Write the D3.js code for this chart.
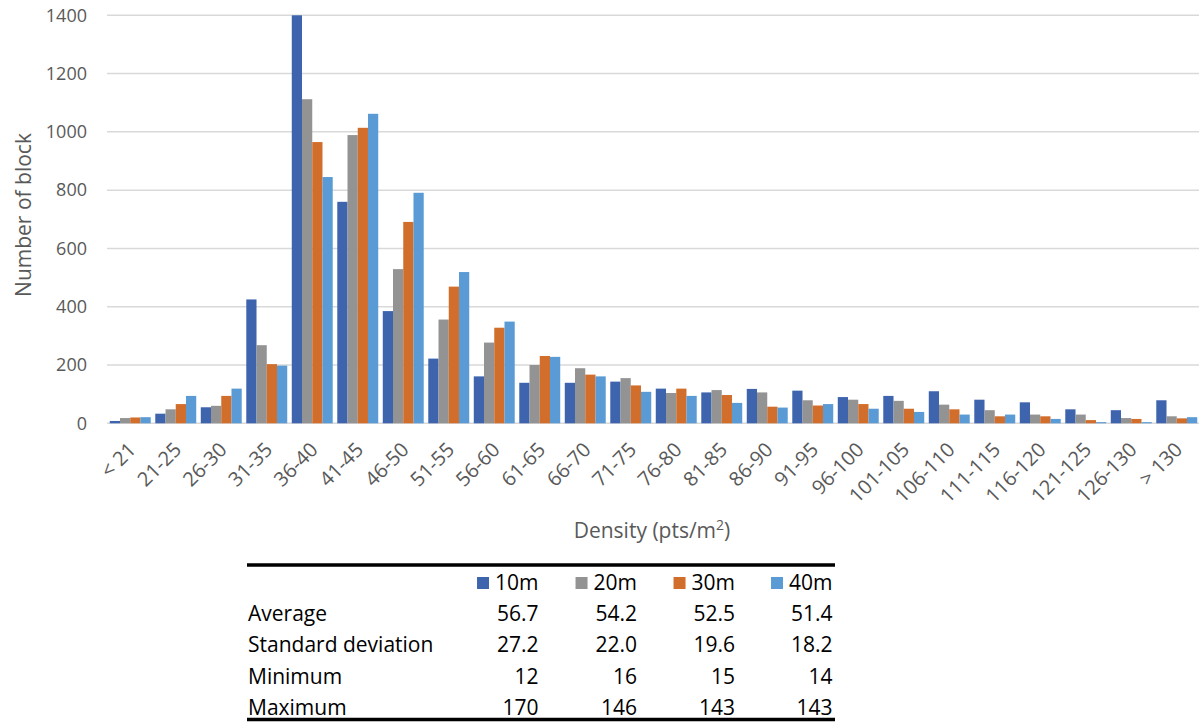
<!DOCTYPE html>
<html>
<head>
<meta charset="utf-8">
<script src="https://cdn.jsdelivr.net/npm/d3@7"></script>
<style>
  html, body { margin: 0; padding: 0; background: #fff; }
  svg { display: block; }
  text { font-family: "Open Sans", sans-serif; }
</style>
</head>
<body>
<svg id="chart" width="1199" height="723"></svg>
<script>
const categories = ["< 21","21-25","26-30","31-35","36-40","41-45","46-50","51-55","56-60","61-65","66-70","71-75","76-80","81-85","86-90","91-95","96-100","101-105","106-110","111-115","116-120","121-125","126-130","> 130"];
const seriesNames = ["10m","20m","30m","40m"];
const s10 = [8,33,55,425,1400,760,385,222,161,139,139,143,119,106,118,112,90,94,110,81,72,48,45,79];
const s20 = [18,48,60,268,1112,989,529,356,277,200,189,155,104,114,106,79,81,77,64,45,30,30,18,24];
const s30 = [20,66,94,203,965,1014,691,469,328,231,167,130,119,97,57,61,66,50,48,24,24,11,15,17];
const s40 = [21,94,119,198,845,1062,791,519,349,228,161,108,94,70,54,66,50,39,30,30,15,4,4,21];
const yTicks = [0,200,400,600,800,1000,1200,1400];
const colors = ["#3e64ae","#939393","#d26e2b","#5b9bd5"];

const statLabels = ["Average","Standard deviation","Minimum","Maximum"];
const stat10 = ["56.7","27.2","12","170"];
const stat20 = ["54.2","22.0","16","146"];
const stat30 = ["52.5","19.6","15","143"];
const stat40 = ["51.4","18.2","14","143"];

const seriesValues = [s10, s20, s30, s40];
const statCols = [stat10, stat20, stat30, stat40];

const svg = d3.select("#chart");
const axisColor = "#595959";

const x0 = d3.scaleBand().domain(categories).range([107.5, 1199.5]).paddingInner(0.1).paddingOuter(0.05);
const x1 = d3.scaleBand().domain(seriesNames).range([0, x0.bandwidth()]).padding(0);
const y = d3.scaleLinear().domain([0, 1400]).range([423.3, 15.3]);

// gridlines
svg.append("g").selectAll("line").data(yTicks).join("line")
  .attr("x1", 107).attr("x2", 1199)
  .attr("y1", d => y(d)).attr("y2", d => y(d))
  .attr("stroke", "#d9d9d9").attr("stroke-width", 1.5);

// y labels
svg.append("g").selectAll("text").data(yTicks).join("text")
  .attr("x", 87).attr("y", d => y(d))
  .attr("dy", "0.35em")
  .attr("text-anchor", "end")
  .attr("font-size", 18).attr("fill", axisColor)
  .text(d => d);

// bars
const rows = categories.map((c, i) => ({ cat: c, vals: seriesValues.map((s, k) => ({ name: seriesNames[k], v: s[i], k })) }));
svg.append("g").selectAll("g").data(rows).join("g")
  .attr("transform", d => `translate(${x0(d.cat)},0)`)
  .selectAll("rect").data(d => d.vals).join("rect")
  .attr("x", d => x1(d.name))
  .attr("width", x1.bandwidth())
  .attr("y", d => y(d.v))
  .attr("height", d => y(0) - y(d.v))
  .attr("fill", d => colors[d.k]);

// x labels
svg.append("g").selectAll("text").data(categories).join("text")
  .attr("transform", d => `translate(${x0(d) + x0.bandwidth() / 2 + 2},${446}) rotate(-45)`)
  .attr("text-anchor", "end")
  .attr("dy", "0.35em")
  .attr("font-size", 20).attr("fill", axisColor)
  .text(d => d);

// axis titles
svg.append("text")
  .attr("transform", "translate(31,215) rotate(-90)")
  .attr("text-anchor", "middle")
  .attr("font-size", 21).attr("fill", axisColor)
  .text("Number of block");

const xt = svg.append("text")
  .attr("x", 652).attr("y", 538)
  .attr("text-anchor", "middle")
  .attr("font-size", 21).attr("fill", axisColor);
xt.append("tspan").text("Density (pts/m");
xt.append("tspan").attr("font-size", 14).attr("dy", -8).text("2");
xt.append("tspan").attr("dy", 8).text(")");

// table
const tbl = svg.append("g");
tbl.append("line").attr("x1", 247).attr("x2", 835).attr("y1", 565).attr("y2", 565)
  .attr("stroke", "#000").attr("stroke-width", 3.5);
tbl.append("line").attr("x1", 247).attr("x2", 835).attr("y1", 719.5).attr("y2", 719.5)
  .attr("stroke", "#000").attr("stroke-width", 3.5);

const colRight = [538.5, 637, 735, 832.5];
const headBase = 590;
const rowBase = [620.5, 651.5, 684, 715];

seriesNames.forEach((n, k) => {
  const t = tbl.append("text")
    .attr("x", colRight[k]).attr("y", headBase)
    .attr("text-anchor", "end")
    .attr("font-size", 21).attr("fill", "#000")
    .text(n);
  const w = t.node().getComputedTextLength();
  tbl.append("rect")
    .attr("x", colRight[k] - w - 6 - 12).attr("y", headBase - 13)
    .attr("width", 12).attr("height", 12)
    .attr("fill", colors[k]);
});

statLabels.forEach((lab, r) => {
  tbl.append("text")
    .attr("x", 248).attr("y", rowBase[r])
    .attr("font-size", 21).attr("fill", "#000")
    .text(lab);
  statCols.forEach((col, k) => {
    tbl.append("text")
      .attr("x", colRight[k]).attr("y", rowBase[r])
      .attr("text-anchor", "end")
      .attr("font-size", 21).attr("fill", "#000")
      .text(col[r]);
  });
});
</script>
</body>
</html>
